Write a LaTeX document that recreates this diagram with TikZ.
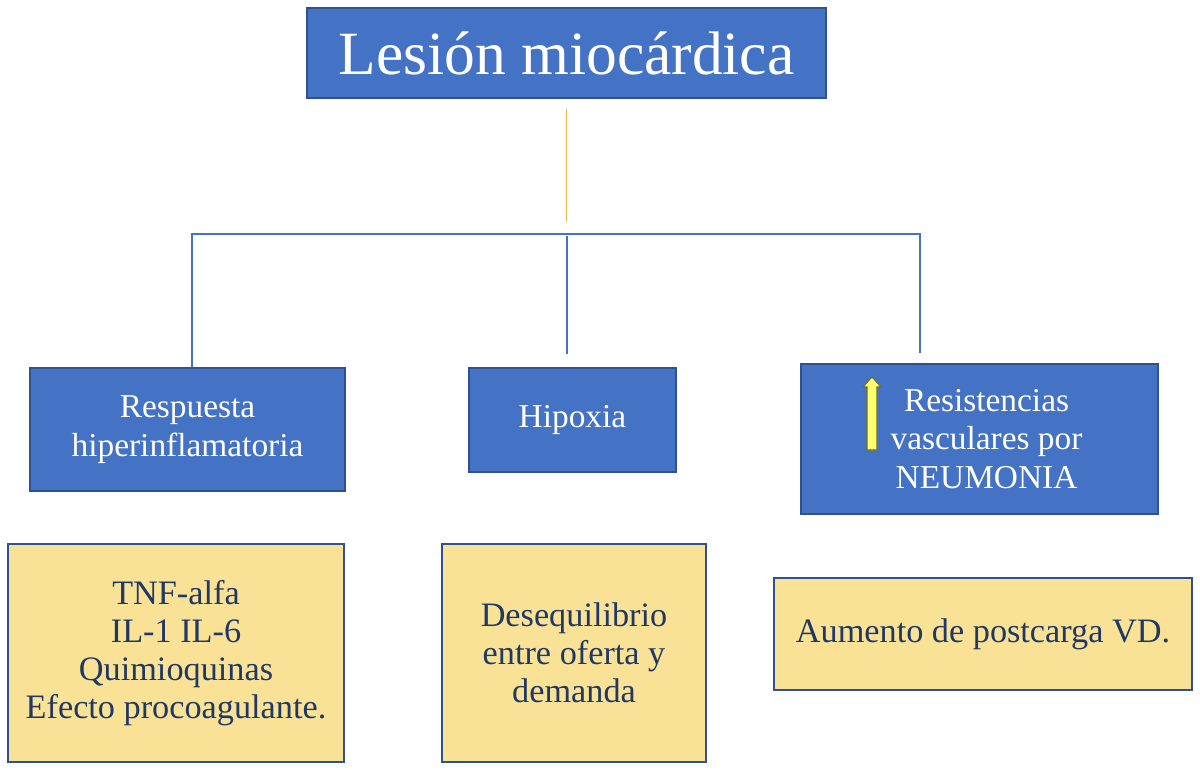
\documentclass[tikz,border=0pt]{standalone}
\usepackage{fontspec}
\setmainfont{Liberation Serif}
\usetikzlibrary{calc}
\definecolor{BoxClr}{RGB}{68,114,196}
\definecolor{EdgeClr}{RGB}{47,82,143}
\definecolor{NoteClr}{RGB}{249,225,150}
\definecolor{InkClr}{RGB}{32,56,100}
\definecolor{StemClr}{RGB}{240,182,72}
\definecolor{ArrowClr}{RGB}{255,255,110}
\definecolor{RimClr}{RGB}{110,110,40}

\begin{document}
\begin{tikzpicture}[x=0.02cm,y=-0.02cm,
  title/.style={draw=EdgeClr,line width=1.2pt,fill=BoxClr,text=white,inner sep=0pt,
    minimum width=10.38cm,minimum height=1.8cm,font=\fontsize{35}{40}\selectfont},
  cause/.style={draw=EdgeClr,line width=1.2pt,fill=BoxClr,text=white,align=center,
    inner sep=0pt,font=\fontsize{19}{22}\selectfont},
  note/.style={draw=EdgeClr,line width=1.2pt,fill=NoteClr,text=InkClr,align=center,
    inner sep=0pt,font=\fontsize{19.5}{21.5}\selectfont},
  link/.style={BoxClr,line width=0.8pt}]
\useasboundingbox (0,0) rectangle (1200,770);

\node[title] (top) at (566.5,53) {Lesión miocárdica};

\node[cause,minimum width=6.3cm,minimum height=2.46cm] (cause1) at (187.5,429.5)
  {\raisebox{-3pt}{Respuesta}\\\raisebox{-3pt}{hiperinflamatoria}};
\node[cause,minimum width=4.14cm,minimum height=2.08cm] (cause2) at (572.5,420) {Hipoxia};
\node[cause,minimum width=7.14cm,minimum height=3cm] (cause3) at (979.5,439)
  {\hspace*{8pt}Resistencias\\\hspace*{8pt}vasculares por\\\hspace*{8pt}NEUMONIA};

\node[note,minimum width=6.72cm,minimum height=4.36cm] (note1) at (176,653)
  {TNF-alfa\\IL-1 IL-6\\Quimioquinas\\Efecto procoagulante.};
\node[note,minimum width=5.28cm,minimum height=4.36cm] (note2) at (574,653)
  {Desequilibrio\\entre oferta y\\demanda};
\node[note,minimum width=8.36cm,minimum height=2.24cm] (note3) at (983,634)
  {Aumento de postcarga VD.};

% connectors
\coordinate (barL) at (192,234);
\coordinate (barM) at (567,236);
\coordinate (barR) at (920,234);
\coordinate (footM) at (567,354);
\coordinate (footR) at (920,353);

\draw[StemClr,line width=0.8pt] ($(top.south)+(0,10)$) -- ($(top.south)+(0,122)$);
\draw[link] (cause1.north -| barL) -- (barL) -- (barR) -- (footR);
\draw[link] (barM) -- (footM);

% up arrow
\draw[fill=ArrowClr,draw=RimClr,line width=0.6pt]
  (867,450) -- (867,387) -- (863,387) -- (872,377) -- (881,387) -- (877,387) -- (877,450) -- cycle;

\end{tikzpicture}
\end{document}
